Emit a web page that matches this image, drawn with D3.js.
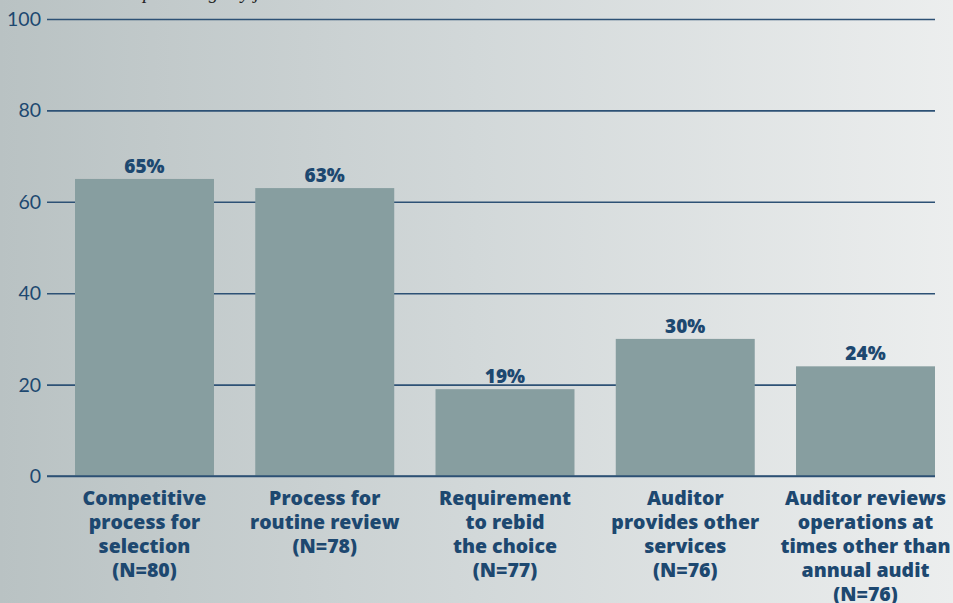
<!DOCTYPE html>
<html lang="en">

<head>
    <meta charset="UTF-8">
    <title>auditor practices</title>
    <style>
        body { margin: 0; padding: 0; overflow: hidden; }
    </style>
</head>

<body>

    <div id="my_dataviz"></div>

    <script src="https://d3js.org/d3.v7.min.js"></script>

    <script type="text/javascript">

        // data
        var categories = [
            ["Competitive", "process for", "selection", "(N=80)"],
            ["Process for", "routine review", "(N=78)"],
            ["Requirement", "to rebid", "the choice", "(N=77)"],
            ["Auditor", "provides other", "services", "(N=76)"],
            ["Auditor reviews", "operations at", "times other than", "annual audit", "(N=76)"]
        ];
        var values = [65, 63, 19, 30, 24];
        var yTicks = [0, 20, 40, 60, 80, 100];

        var width = 953,
            height = 603;

        var textColor = "#1d4870";
        var font = "Lato, 'Open Sans', sans-serif";
        var boldFont = "'Open Sans', Lato, sans-serif";

        var svg = d3.select("#my_dataviz")
            .append("svg")
            .attr("width", width)
            .attr("height", height);

        // background gradient
        var grad = svg.append("defs")
            .append("linearGradient")
            .attr("id", "bg")
            .attr("x1", "0%").attr("x2", "100%")
            .attr("y1", "0%").attr("y2", "0%");
        grad.append("stop").attr("offset", "0%").attr("stop-color", "#b9c2c3");
        grad.append("stop").attr("offset", "50%").attr("stop-color", "#d2d8d9");
        grad.append("stop").attr("offset", "100%").attr("stop-color", "#eceeee");

        svg.append("rect")
            .attr("width", width)
            .attr("height", height)
            .attr("fill", "url(#bg)");

        // cut off subtitle at the very top (only descenders show)
        svg.append("text")
            .attr("x", 143)
            .attr("y", -1)
            .style("font-family", "'Liberation Serif', 'DejaVu Serif', serif")
            .style("font-style", "italic")
            .style("font-size", "19px")
            .attr("fill", "#222")
            .text("percentage by jurisdiction");

        // scales
        var x = d3.scaleBand()
            .domain(d3.range(categories.length))
            .range([75, 935])
            .paddingInner(0.229)
            .paddingOuter(0);

        var y = d3.scaleLinear()
            .domain([0, 100])
            .range([476, 19]);

        // grid lines
        var yGrid = d3.axisLeft(y)
            .tickValues(yTicks)
            .tickFormat("")
            .tickSizeInner(-(935 - 47))
            .tickSizeOuter(0);

        var grid = svg.append("g")
            .attr("transform", "translate(47,0)")
            .call(yGrid);
        grid.select(".domain").remove();
        grid.selectAll("line")
            .attr("stroke", "#2d5175")
            .attr("stroke-width", 1.6);

        // tick labels
        svg.append("g")
            .selectAll("text")
            .data(yTicks)
            .join("text")
            .attr("x", 41)
            .attr("y", function (d) { return y(d) + 7; })
            .attr("text-anchor", "end")
            .style("font-family", font)
            .style("font-size", "19.5px")
            .attr("fill", textColor)
            .text(function (d) { return d; });

        // bars
        svg.append("g")
            .selectAll("rect")
            .data(values)
            .join("rect")
            .attr("x", function (d, i) { return x(i); })
            .attr("y", function (d) { return y(d); })
            .attr("width", x.bandwidth())
            .attr("height", function (d) { return y(0) - y(d); })
            .attr("fill", "#879ea0");

        // baseline on top of the bars
        svg.append("line")
            .attr("x1", 47)
            .attr("x2", 935)
            .attr("y1", y(0))
            .attr("y2", y(0))
            .attr("stroke", "#2d5175")
            .attr("stroke-width", 1.6);

        // value labels
        svg.append("g")
            .selectAll("text")
            .data(values)
            .join("text")
            .attr("x", function (d, i) { return x(i) + x.bandwidth() / 2; })
            .attr("y", function (d) { return y(d) - 6; })
            .attr("text-anchor", "middle")
            .style("font-family", boldFont)
            .style("font-weight", 800)
            .style("font-size", "19px")
            .attr("fill", textColor)
            .text(function (d) { return d + "%"; });

        // category labels
        var cat = svg.append("g")
            .selectAll("text")
            .data(categories)
            .join("text")
            .attr("text-anchor", "middle")
            .style("font-family", boldFont)
            .style("font-weight", 800)
            .style("font-size", "19.5px")
            .attr("fill", textColor);

        cat.selectAll("tspan")
            .data(function (d, i) { return d.map(function (t) { return { t: t, i: i }; }); })
            .join("tspan")
            .attr("x", function (d) { return x(d.i) + x.bandwidth() / 2; })
            .attr("y", function (d, j) { return 505 + j * 24; })
            .text(function (d) { return d.t; });

    </script>

</body>

</html>
